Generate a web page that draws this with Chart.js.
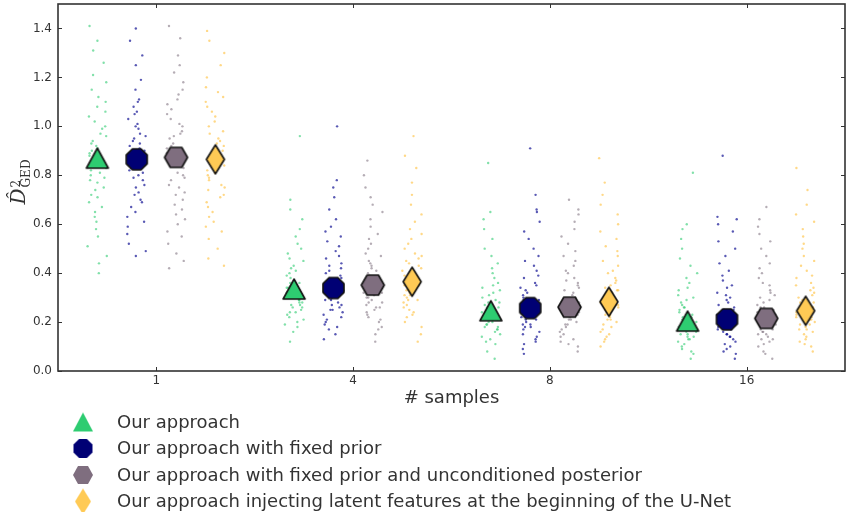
<!DOCTYPE html>
<html><head><meta charset="utf-8">
<script src="https://cdn.jsdelivr.net/npm/chart.js@4/dist/chart.umd.min.js"></script>
<style>html,body{margin:0;padding:0;background:#fff}canvas{display:block}</style>
</head><body>
<canvas id="c" width="847" height="512"></canvas>
<script>
// ---------- data ----------
const sampleLabels = ['1', '4', '8', '16'];
const methodNames = [
  'Our approach',
  'Our approach with fixed prior',
  'Our approach with fixed prior and unconditioned posterior',
  'Our approach injecting latent features at the beginning of the U-Net'
];
const yTickValues = [0, 0.2, 0.4, 0.6, 0.8, 1.0, 1.2, 1.4];

const meanOurs   = [0.870, 0.335, 0.246, 0.204];
const meanFixed  = [0.865, 0.339, 0.257, 0.211];
const meanUncond = [0.873, 0.351, 0.261, 0.215];
const meanInject = [0.865, 0.365, 0.283, 0.246];

const ours1 = [0.40,0.44,0.47,0.51,0.55,0.58,0.61,0.63,0.65,0.67,0.69,0.71,0.72,0.74,0.75,0.77,0.78,0.79,0.80,0.81,0.82,0.83,0.84,0.85,0.86,0.87,0.88,0.89,0.90,0.91,0.92,0.93,0.94,0.96,0.97,0.99,1.00,1.02,1.04,1.06,1.08,1.10,1.12,1.15,1.18,1.21,1.26,1.31,1.35,1.41];
const ours4 = [0.12,0.16,0.18,0.19,0.20,0.21,0.22,0.23,0.24,0.24,0.25,0.26,0.26,0.27,0.27,0.28,0.28,0.29,0.29,0.30,0.30,0.31,0.31,0.32,0.32,0.33,0.33,0.34,0.34,0.35,0.36,0.36,0.37,0.38,0.39,0.40,0.41,0.42,0.43,0.45,0.46,0.48,0.50,0.52,0.55,0.58,0.62,0.66,0.70,0.96];
const ours8 = [0.05,0.08,0.11,0.12,0.13,0.14,0.15,0.16,0.17,0.17,0.18,0.18,0.19,0.19,0.20,0.20,0.21,0.21,0.22,0.22,0.23,0.23,0.24,0.24,0.25,0.25,0.26,0.26,0.27,0.28,0.28,0.29,0.30,0.31,0.32,0.33,0.34,0.35,0.36,0.38,0.40,0.42,0.44,0.47,0.50,0.54,0.58,0.62,0.65,0.85];
const ours16 = [0.05,0.07,0.08,0.09,0.10,0.11,0.12,0.13,0.13,0.14,0.14,0.15,0.15,0.16,0.16,0.17,0.17,0.18,0.18,0.19,0.19,0.20,0.20,0.21,0.21,0.22,0.22,0.23,0.23,0.24,0.25,0.26,0.26,0.27,0.28,0.29,0.30,0.31,0.33,0.34,0.36,0.38,0.40,0.43,0.46,0.50,0.54,0.58,0.60,0.81];

const fixed1 = [0.47,0.49,0.52,0.56,0.59,0.61,0.63,0.65,0.67,0.69,0.70,0.72,0.73,0.75,0.76,0.78,0.79,0.80,0.81,0.82,0.83,0.84,0.85,0.86,0.87,0.88,0.89,0.90,0.91,0.92,0.93,0.94,0.95,0.96,0.97,0.99,1.00,1.01,1.03,1.05,1.06,1.08,1.10,1.11,1.15,1.19,1.25,1.29,1.35,1.40];
const fixed4 = [0.13,0.15,0.17,0.18,0.19,0.20,0.21,0.22,0.23,0.24,0.25,0.25,0.26,0.27,0.27,0.28,0.29,0.29,0.30,0.31,0.31,0.32,0.33,0.33,0.34,0.35,0.36,0.36,0.37,0.38,0.39,0.40,0.41,0.42,0.43,0.44,0.46,0.47,0.49,0.51,0.53,0.55,0.57,0.59,0.62,0.66,0.71,0.75,0.78,1.00];
const fixed8 = [0.07,0.09,0.11,0.12,0.13,0.14,0.15,0.16,0.17,0.18,0.18,0.19,0.19,0.20,0.21,0.21,0.22,0.22,0.23,0.24,0.24,0.25,0.25,0.26,0.27,0.27,0.28,0.29,0.29,0.30,0.31,0.32,0.33,0.34,0.35,0.36,0.38,0.39,0.41,0.43,0.45,0.47,0.50,0.54,0.57,0.61,0.65,0.66,0.72,0.91];
const fixed16 = [0.05,0.07,0.08,0.09,0.10,0.11,0.12,0.13,0.14,0.14,0.15,0.15,0.16,0.17,0.17,0.18,0.18,0.19,0.19,0.20,0.20,0.21,0.21,0.22,0.23,0.23,0.24,0.25,0.25,0.26,0.27,0.28,0.29,0.30,0.31,0.32,0.34,0.35,0.37,0.39,0.41,0.44,0.47,0.50,0.53,0.57,0.60,0.62,0.63,0.88];

const uncond1 = [0.42,0.45,0.48,0.52,0.55,0.57,0.60,0.62,0.64,0.66,0.68,0.70,0.72,0.73,0.75,0.76,0.78,0.79,0.80,0.81,0.83,0.84,0.85,0.86,0.87,0.88,0.89,0.90,0.91,0.92,0.93,0.95,0.96,0.97,0.98,1.00,1.01,1.03,1.05,1.07,1.09,1.11,1.13,1.15,1.18,1.22,1.25,1.29,1.36,1.41];
const uncond4 = [0.12,0.15,0.17,0.18,0.20,0.21,0.22,0.23,0.24,0.25,0.26,0.26,0.27,0.28,0.28,0.29,0.30,0.30,0.31,0.32,0.32,0.33,0.34,0.34,0.35,0.36,0.36,0.37,0.38,0.39,0.40,0.41,0.42,0.43,0.44,0.45,0.47,0.48,0.50,0.52,0.54,0.56,0.59,0.62,0.65,0.68,0.71,0.75,0.80,0.86];
const uncond8 = [0.08,0.10,0.11,0.12,0.13,0.14,0.15,0.16,0.17,0.18,0.19,0.19,0.20,0.21,0.21,0.22,0.23,0.23,0.24,0.24,0.25,0.26,0.26,0.27,0.27,0.28,0.29,0.29,0.30,0.31,0.32,0.33,0.34,0.35,0.36,0.37,0.38,0.40,0.41,0.43,0.45,0.47,0.49,0.52,0.55,0.58,0.61,0.64,0.66,0.70];
const uncond16 = [0.05,0.07,0.08,0.10,0.11,0.12,0.13,0.13,0.14,0.15,0.15,0.16,0.16,0.17,0.17,0.18,0.19,0.19,0.20,0.20,0.21,0.21,0.22,0.22,0.23,0.24,0.24,0.25,0.26,0.26,0.27,0.28,0.29,0.30,0.31,0.32,0.33,0.35,0.36,0.38,0.40,0.42,0.44,0.47,0.50,0.53,0.56,0.59,0.62,0.67];

const inject1 = [0.43,0.46,0.50,0.54,0.57,0.59,0.61,0.63,0.65,0.67,0.69,0.71,0.72,0.74,0.75,0.76,0.78,0.79,0.80,0.81,0.82,0.83,0.84,0.85,0.86,0.87,0.88,0.89,0.90,0.91,0.92,0.93,0.94,0.95,0.97,0.98,1.00,1.02,1.04,1.06,1.08,1.10,1.12,1.14,1.16,1.20,1.25,1.30,1.35,1.39];
const inject4 = [0.12,0.15,0.18,0.20,0.22,0.23,0.24,0.25,0.26,0.27,0.28,0.29,0.29,0.30,0.31,0.31,0.32,0.33,0.33,0.34,0.35,0.35,0.36,0.37,0.37,0.38,0.39,0.39,0.40,0.41,0.42,0.43,0.44,0.45,0.46,0.47,0.48,0.50,0.52,0.54,0.56,0.58,0.61,0.64,0.68,0.72,0.77,0.83,0.88,0.96];
const inject8 = [0.10,0.12,0.13,0.14,0.15,0.16,0.17,0.18,0.19,0.20,0.21,0.21,0.22,0.23,0.23,0.24,0.25,0.25,0.26,0.27,0.27,0.28,0.28,0.29,0.30,0.30,0.31,0.32,0.33,0.33,0.34,0.35,0.36,0.37,0.38,0.40,0.41,0.43,0.45,0.47,0.49,0.51,0.54,0.57,0.60,0.64,0.68,0.72,0.77,0.87];
const inject16 = [0.08,0.10,0.11,0.12,0.13,0.14,0.15,0.16,0.17,0.17,0.18,0.19,0.19,0.20,0.21,0.21,0.22,0.22,0.23,0.24,0.24,0.25,0.26,0.26,0.27,0.28,0.28,0.29,0.30,0.31,0.32,0.33,0.34,0.35,0.36,0.38,0.39,0.41,0.43,0.45,0.47,0.50,0.52,0.55,0.58,0.61,0.64,0.68,0.74,0.83];

// ---------- styling ----------
const methods = [
  {name: methodNames[0], mean: meanOurs,   clouds: [ours1, ours4, ours8, ours16],         shape: 'triangle', fill: '#2ecc71', dot: 'rgba(46,204,113,0.6)',  off: -0.3, w: 22, h: 20, lw: 20, lh: 19},
  {name: methodNames[1], mean: meanFixed,  clouds: [fixed1, fixed4, fixed8, fixed16],     shape: 'octagon',  fill: '#000074', dot: 'rgba(0,0,140,0.65)',    off: -0.1, w: 21, h: 21, lw: 19, lh: 19},
  {name: methodNames[2], mean: meanUncond, clouds: [uncond1, uncond4, uncond8, uncond16], shape: 'hexagon',  fill: '#7f6e7f', dot: 'rgba(120,105,120,0.55)',off:  0.1, w: 23, h: 20, lw: 20, lh: 18},
  {name: methodNames[3], mean: meanInject, clouds: [inject1, inject4, inject8, inject16], shape: 'diamond',  fill: '#ffca55', dot: 'rgba(255,195,70,0.65)', off:  0.3, w: 18, h: 29, lw: 16, lh: 26}
];

function makeMarker(shape, fill, stroke, w, h) {
  const pad = 2;
  const c = document.createElement('canvas');
  c.width = Math.ceil(w + pad * 2); c.height = Math.ceil(h + pad * 2);
  const ctx = c.getContext('2d');
  const cx = c.width / 2, cy = c.height / 2;
  const hw = w / 2, hh = h / 2;
  ctx.beginPath();
  if (shape === 'triangle') {
    ctx.moveTo(cx, cy - hh); ctx.lineTo(cx + hw, cy + hh); ctx.lineTo(cx - hw, cy + hh);
  } else if (shape === 'octagon') {
    for (let k = 0; k < 8; k++) {
      const a = Math.PI / 8 + k * Math.PI / 4;
      const px = cx + hw / Math.cos(Math.PI / 8) * Math.cos(a);
      const py = cy + hh / Math.cos(Math.PI / 8) * Math.sin(a);
      k === 0 ? ctx.moveTo(px, py) : ctx.lineTo(px, py);
    }
  } else if (shape === 'hexagon') {
    for (let k = 0; k < 6; k++) {
      const a = k * Math.PI / 3;
      const px = cx + hw * Math.cos(a);
      const py = cy + hh * Math.sin(a) / Math.sin(Math.PI / 3);
      k === 0 ? ctx.moveTo(px, py) : ctx.lineTo(px, py);
    }
  } else {
    ctx.moveTo(cx, cy - hh); ctx.lineTo(cx + hw, cy); ctx.lineTo(cx, cy + hh); ctx.lineTo(cx - hw, cy);
  }
  ctx.closePath();
  ctx.fillStyle = fill; ctx.fill();
  if (stroke) { ctx.lineJoin = 'round'; ctx.lineWidth = 1.6; ctx.strokeStyle = stroke; ctx.stroke(); }
  return c;
}
methods.forEach(m => {
  m.img = makeMarker(m.shape, m.fill, '#111', m.w, m.h);
  m.legendImg = makeMarker(m.shape, m.fill, null, m.lw, m.lh);
});

// ---------- datasets ----------
const JW = 0.1; // jitter width (category units): horizontal spread of each strip
function spread(i, g, m) { // deterministic, well-mixed horizontal position within a strip (0..1)
  let h = (Math.imul(i + 1, 374761393) + Math.imul(g + 1, 668265263) + Math.imul(m + 1, 1274126177)) | 0;
  h = Math.imul(h ^ (h >>> 13), 1274126177);
  h = Math.imul(h ^ (h >>> 16), 2246822519);
  h ^= h >>> 15;
  return (h >>> 0) / 4294967296;
}
const datasets = [];
methods.forEach((m, mi) => {
  const pts = [];
  m.clouds.forEach((vals, g) => {
    vals.forEach((v, i) => {
      pts.push({x: g + m.off + (spread(i, g, mi) - 0.5) * JW, y: v});
    });
  });
  datasets.push({type: 'scatter', data: pts, order: 2, pointRadius: 1.2, pointHoverRadius: 1.2,
    pointBorderWidth: 0, backgroundColor: m.dot, borderColor: m.dot, showLine: false});
});
methods.forEach(m => {
  datasets.push({type: 'scatter', data: m.mean.map((v, g) => ({x: g + m.off, y: v})), order: 1,
    pointStyle: m.img, pointRadius: 10, showLine: false, backgroundColor: m.fill, borderColor: '#111'});
});

const INK = '#333333';
const FONT = '"DejaVu Sans", sans-serif';

const framePlugin = {
  id: 'frame',
  afterDraw(chart) {
    const {ctx, chartArea: a, scales: {x, y}} = chart;
    ctx.save();
    ctx.strokeStyle = INK;
    ctx.lineWidth = 1;
    ctx.beginPath();
    x.ticks.forEach(t => {
      const px = Math.round(x.getPixelForValue(t.value)) + 0.5;
      ctx.moveTo(px, a.bottom); ctx.lineTo(px, a.bottom - 4);
      ctx.moveTo(px, a.top); ctx.lineTo(px, a.top + 4);
    });
    y.ticks.forEach(t => {
      const py = Math.round(y.getPixelForValue(t.value)) + 0.5;
      ctx.moveTo(a.left, py); ctx.lineTo(a.left + 4, py);
      ctx.moveTo(a.right, py); ctx.lineTo(a.right - 4, py);
    });
    ctx.stroke();
    ctx.lineWidth = 1.6;
    ctx.strokeRect(a.left, a.top, a.right - a.left, a.bottom - a.top);

    // y-axis label
    ctx.save();
    ctx.translate(19, 182);
    ctx.rotate(-Math.PI / 2);
    ctx.fillStyle = INK;
    ctx.textBaseline = 'alphabetic';
    ctx.font = 'italic 20px "DejaVu Serif", serif';
    const wD = ctx.measureText('D').width;
    ctx.font = '12px "DejaVu Serif", serif';
    const wG = ctx.measureText('GED').width;
    const start = -(wD + 1 + wG) / 2;
    ctx.font = 'italic 20px "DejaVu Serif", serif';
    ctx.fillText('D\u0302', start, 6);
    ctx.font = '12px "DejaVu Serif", serif';
    ctx.fillText('2', start + wD + 1, 1);
    ctx.fillText('GED', start + wD + 1, 11);
    ctx.restore();

    // legend
    ctx.font = '18px ' + FONT;
    ctx.textBaseline = 'middle';
    ctx.textAlign = 'left';
    methods.forEach((m, i) => {
      const ly = 422 + i * 26.5;
      ctx.drawImage(m.legendImg, 83 - m.legendImg.width / 2, ly - m.legendImg.height / 2);
      ctx.fillStyle = INK;
      ctx.fillText(m.name, 117, ly + 1);
    });
    ctx.restore();
  }
};

new Chart(document.getElementById('c'), {
  type: 'scatter',
  data: {datasets},
  options: {
    responsive: false,
    animation: false,
    devicePixelRatio: 1,
    events: [],
    layout: {autoPadding: false, padding: {left: 0, right: 2, top: 4, bottom: 103}},
    plugins: {legend: {display: false}, tooltip: {enabled: false}},
    scales: {
      x: {
        type: 'linear', min: -0.5, max: 3.5,
        afterBuildTicks: s => { s.ticks = sampleLabels.map((_, i) => ({value: i})); },
        afterFit: s => { s.height = 38; s.paddingLeft = 0; s.paddingRight = 0; },
        grid: {display: false, drawTicks: false},
        border: {display: false},
        ticks: {padding: 3, color: INK, font: {family: 'DejaVu Sans', size: 12},
          callback: v => sampleLabels[v]},
        title: {display: true, text: '# samples', color: INK, padding: 0,
          font: {family: 'DejaVu Sans', size: 18}}
      },
      y: {
        type: 'linear', min: 0, max: 1.5,
        afterBuildTicks: s => { s.ticks = yTickValues.map(v => ({value: v})); },
        afterFit: s => { s.width = 58; s.paddingTop = 0; s.paddingBottom = 0; },
        grid: {display: false, drawTicks: false},
        border: {display: false},
        ticks: {padding: 6, color: INK, font: {family: 'DejaVu Sans', size: 12},
          callback: v => Number(v).toFixed(1)}
      }
    }
  },
  plugins: [framePlugin]
});
</script>
</body></html>
